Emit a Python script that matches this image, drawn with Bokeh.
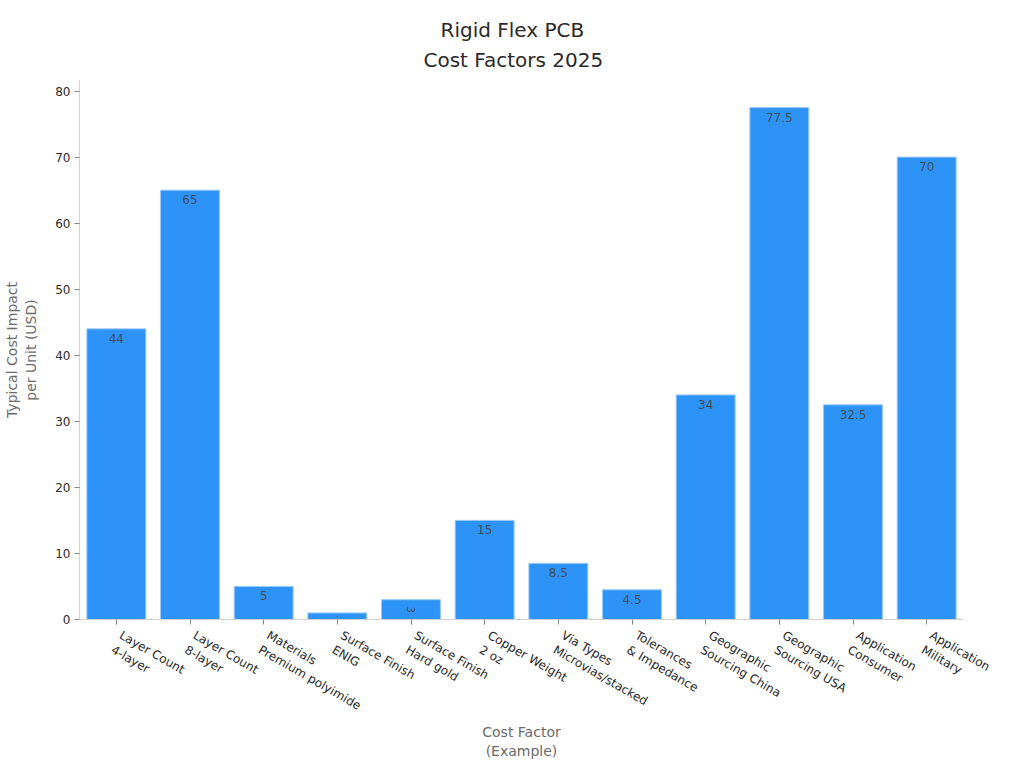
import math
from bokeh.plotting import figure
from bokeh.models import ColumnDataSource, FixedTicker, Range1d, FactorRange, Title
from bokeh.core.properties import value
from bokeh.embed import file_html
from bokeh.resources import INLINE

categories = [
    "Layer Count\n4-layer",
    "Layer Count\n8-layer",
    "Materials\nPremium polyimide",
    "Surface Finish\nENIG",
    "Surface Finish\nHard gold",
    "Copper Weight\n2 oz",
    "Via Types\nMicrovias/stacked",
    "Tolerances\n& Impedance",
    "Geographic\nSourcing China",
    "Geographic\nSourcing USA",
    "Application\nConsumer",
    "Application\nMilitary",
]
values = [44, 65, 5, 1, 3, 15, 8.5, 4.5, 34, 77.5, 32.5, 70]
y_ticks = [0, 10, 20, 30, 40, 50, 60, 70, 80]
title_line1 = "Rigid Flex PCB"
title_line2 = "Cost Factors 2025"
x_title = "Cost Factor\n(Example)"
y_title = "Typical Cost Impact\nper Unit (USD)"

FONT = "DejaVu Sans"
BAR = "#2E93F6"

def fmt(v):
    return str(int(v)) if float(v).is_integer() else str(v)

labels = [fmt(v) for v in values]

big = [i for i, v in enumerate(values) if v >= 4]
mid = [i for i, v in enumerate(values) if 2 <= v < 4]
tiny = [i for i, v in enumerate(values) if v < 2]

src = ColumnDataSource(dict(cat=categories, val=values, lab=labels))
src_big = ColumnDataSource(dict(cat=[categories[i] for i in big],
                                val=[values[i] for i in big],
                                lab=[labels[i] for i in big]))
src_mid = ColumnDataSource(dict(cat=[categories[i] for i in mid],
                                val=[values[i] / 2 for i in mid],
                                lab=[labels[i] for i in mid]))
src_tiny = ColumnDataSource(dict(cat=[categories[i] for i in tiny],
                                 val=[values[i] / 2 for i in tiny],
                                 lab=[labels[i] for i in tiny]))

y_end = 81.6
p = figure(
    width=1020, height=766, title=None,
    x_range=FactorRange(factors=categories, range_padding=0),
    y_range=Range1d(0, y_end),
    output_backend="svg", toolbar_location=None,
    min_border_left=79, min_border_right=57, min_border_top=80, min_border_bottom=147,
)

def make_title(text, offset, standoff):
    return Title(text=text, align="left", offset=offset, standoff=standoff,
                 text_font=FONT, text_font_size="20px", text_font_style="normal",
                 text_color="#2a2a2a")

p.add_layout(make_title(title_line2, 344, 17), "above")
p.add_layout(make_title(title_line1, 361, -8), "above")

p.vbar(x="cat", top="val", width=0.8, source=src, fill_color=BAR,
       line_color="#9ccaf7", line_width=1)

p.text(x="cat", y="val", text="lab", source=src_big, text_font=value(FONT),
       text_font_size="12px", text_color="#444444", text_alpha=0.9,
       text_align="center", text_baseline="top", y_offset=5)
p.text(x="cat", y="val", text="lab", source=src_mid, text_font=value(FONT),
       text_font_size="10px", text_color="#444444", text_alpha=0.9,
       text_align="center", text_baseline="middle", angle=-math.pi / 2)
p.text(x="cat", y="val", text="lab", source=src_tiny, text_font=value(FONT),
       text_font_size="3px", text_color="#444444", text_alpha=0.9,
       text_align="center", text_baseline="middle", angle=-math.pi / 2)

p.xgrid.visible = False
p.ygrid.visible = False
p.outline_line_color = None

p.yaxis.ticker = FixedTicker(ticks=y_ticks)
p.yaxis.axis_label = y_title
p.xaxis.axis_label = x_title
for ax in (p.xaxis, p.yaxis):
    ax.axis_line_color = "#d0d0d0"
    ax.major_tick_line_color = "#888888"
    ax.major_tick_out = 5
    ax.major_tick_in = 0
    ax.minor_tick_line_color = None
    ax.major_label_text_font = FONT
    ax.major_label_text_color = "#2a2a2a"
    ax.axis_label_text_font = FONT
    ax.axis_label_text_font_size = "14px"
    ax.axis_label_text_font_style = "normal"
    ax.axis_label_text_color = "#6b6b6b"
p.yaxis.major_label_text_font_size = "12px"
p.yaxis.major_label_standoff = 4
p.yaxis.axis_label_standoff = 13
p.xaxis.major_label_text_font_size = "12px"
p.xaxis.major_label_orientation = -math.pi / 6
p.xaxis.major_label_standoff = 17
p.xaxis.axis_label_standoff = -5

open("out.html", "w").write(file_html(p, INLINE))
